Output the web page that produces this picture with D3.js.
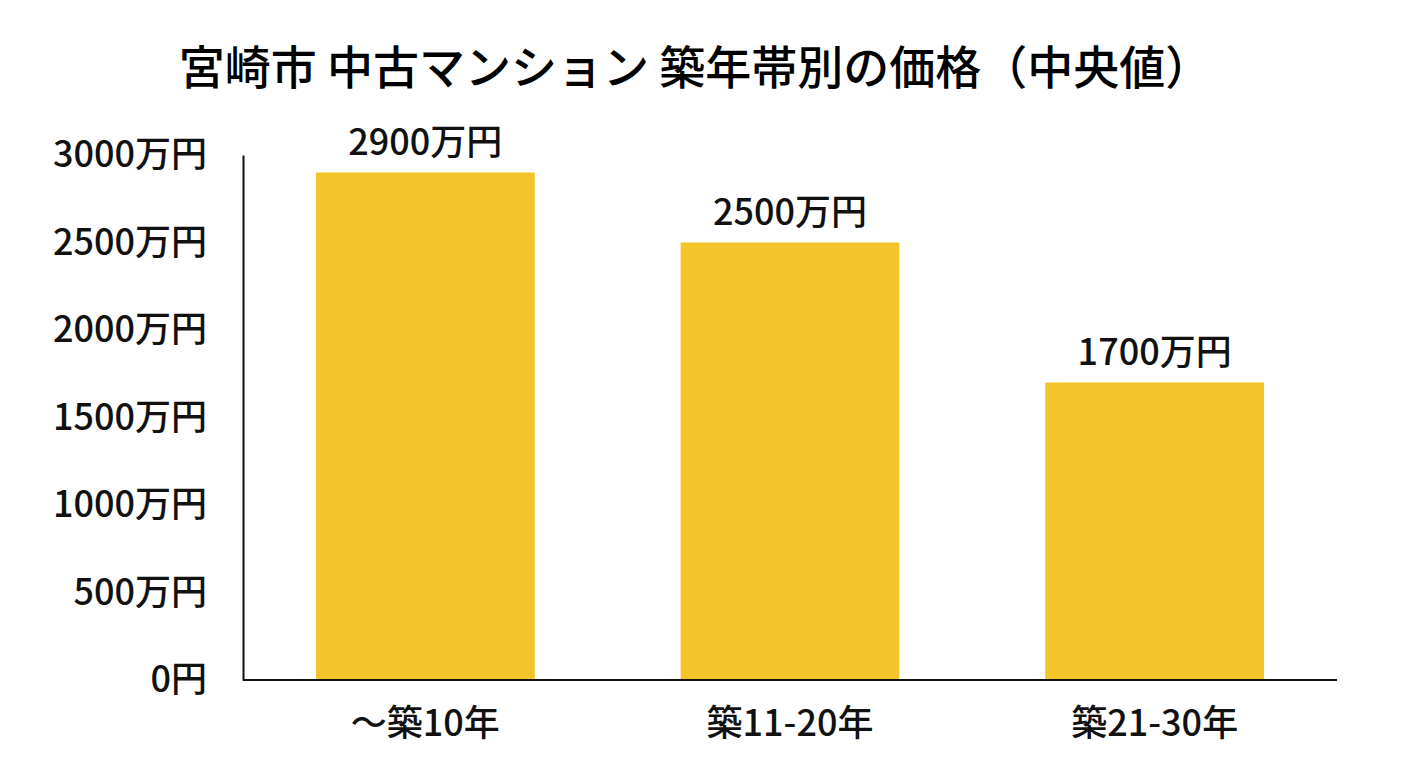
<!DOCTYPE html>
<html>
<head>
<meta charset="UTF-8">
<title>宮崎市 中古マンション 築年帯別の価格</title>
<style>
    body {
        margin: 0;
        background-color: white;
        font-family: "Noto Sans CJK JP", "Noto Sans", sans-serif;
    }
    .bar {
        fill: #f4c52b;
    }
    .axis path {
        stroke: #111;
        stroke-width: 2px;
    }
    .axis text {
        font-family: "Noto Sans CJK JP", sans-serif;
        font-size: 36px;
        font-weight: 500;
        fill: #111;
    }
</style>
</head>
<body>
<script src="https://d3js.org/d3.v7.min.js"></script>
<script>
    var categories = ["～築10年", "築11-20年", "築21-30年"];
    var prices = [2900, 2500, 1700];
    var yTicks = [0, 500, 1000, 1500, 2000, 2500, 3000];

    var width = 1408,
        height = 768;

    var margin = {left: 243, right: 71, top: 155, bottom: 88};

    var svg = d3.select("body").append("svg")
        .attr("width", width)
        .attr("height", height);

    var x = d3.scaleBand()
        .domain(categories)
        .range([margin.left, width - margin.right])
        .paddingInner(0.4)
        .paddingOuter(0.2);

    var y = d3.scaleLinear()
        .domain([0, 3000])
        .range([height - margin.bottom, margin.top]);

    function yenLabel(d) {
        return d === 0 ? "0円" : d + "万円";
    }

    svg.append("text")
        .attr("x", 695)
        .attr("y", 84)
        .attr("text-anchor", "middle")
        .style("font-size", "46px")
        .style("font-weight", 500)
        .text("宮崎市 中古マンション 築年帯別の価格（中央値）");

    svg.selectAll(".bar")
        .data(prices)
        .enter().append("rect")
        .attr("class", "bar")
        .attr("x", function(d, i) { return x(categories[i]); })
        .attr("width", x.bandwidth())
        .attr("y", function(d) { return y(d); })
        .attr("height", function(d) { return y(0) - y(d); });

    svg.selectAll(".value")
        .data(prices)
        .enter().append("text")
        .attr("class", "value")
        .attr("x", function(d, i) { return x(categories[i]) + x.bandwidth() / 2; })
        .attr("y", function(d) { return y(d) - 18; })
        .attr("text-anchor", "middle")
        .style("font-size", "36px")
        .style("font-weight", 500)
        .style("fill", "#111")
        .text(yenLabel);

    var yAxis = svg.append("g")
        .attr("class", "axis")
        .attr("transform", "translate(" + margin.left + ",0)")
        .call(d3.axisLeft(y).tickValues(yTicks).tickSize(0).tickPadding(36).tickFormat(yenLabel));

    var xAxis = svg.append("g")
        .attr("class", "axis")
        .attr("transform", "translate(0," + (height - margin.bottom) + ")")
        .call(d3.axisBottom(x).tickSize(0).tickPadding(30));

    xAxis.select(".domain")
        .attr("d", "M" + margin.left + ",0H" + (width - margin.right));
</script>
</body>
</html>
